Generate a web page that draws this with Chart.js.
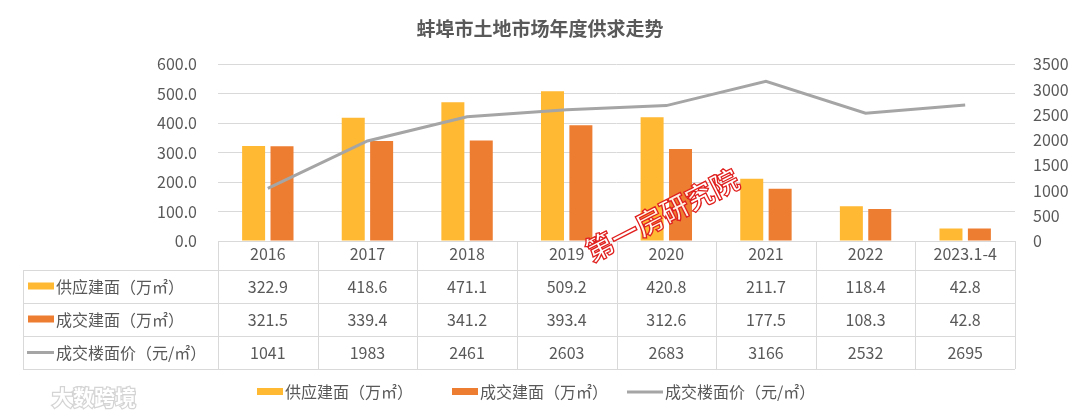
<!DOCTYPE html>
<html><head><meta charset="utf-8">
<script src="https://cdn.jsdelivr.net/npm/chart.js@4.4.0/dist/chart.umd.min.js"></script>
<style>html,body{margin:0;padding:0;background:#fff;overflow:hidden}canvas{display:block}</style>
</head><body>
<canvas id="c" width="1080" height="415"></canvas>
<script>
const titleText = '蚌埠市土地市场年度供求走势';
const categories = ['2016','2017','2018','2019','2020','2021','2022','2023.1-4'];
const supplyArea = [322.9,418.6,471.1,509.2,420.8,211.7,118.4,42.8];
const dealArea = [321.5,339.4,341.2,393.4,312.6,177.5,108.3,42.8];
const dealPrice = [1041,1983,2461,2603,2683,3166,2532,2695];
const seriesNames = ['供应建面（万㎡）','成交建面（万㎡）','成交楼面价（元/㎡）'];
const watermarkText = '第一房研究院';
const logoText = '大数跨境';

const F = '"Noto Sans CJK SC", "Open Sans", sans-serif';
const TXT = '#595959', GRID = '#D9D9D9';
const C_SUP = '#FFB933', C_DEAL = '#ED7D31', C_PRICE = '#A5A5A5';

const tablePlugin = {
  id: 'tablePlugin',
  afterDraw(chart) {
    const ctx = chart.ctx, a = chart.chartArea, xs = chart.scales.x;
    const n = categories.length;
    const half = (xs.getPixelForValue(1) - xs.getPixelForValue(0)) / 2;
    const bounds = [];
    for (let i = 0; i < n; i++) bounds.push(xs.getPixelForValue(i) - half);
    bounds.push(xs.getPixelForValue(n - 1) + half);
    const top = a.bottom, r1 = top + 29, rh = 33, tableLeft = 23;
    const rowsY = [r1, r1 + rh, r1 + 2 * rh, r1 + 3 * rh];
    ctx.save();
    ctx.strokeStyle = GRID; ctx.lineWidth = 1;
    ctx.beginPath();
    bounds.forEach(b => { const x = Math.round(b) + 0.5; ctx.moveTo(x, top); ctx.lineTo(x, rowsY[3]); });
    ctx.moveTo(tableLeft + 0.5, r1); ctx.lineTo(tableLeft + 0.5, rowsY[3]);
    rowsY.forEach(y => { ctx.moveTo(tableLeft, Math.round(y) + 0.5); ctx.lineTo(bounds[n], Math.round(y) + 0.5); });
    ctx.moveTo(bounds[0], Math.round(top) + 0.5); ctx.lineTo(bounds[n], Math.round(top) + 0.5);
    ctx.stroke();

    const rows = [supplyArea.map(v => v.toFixed(1)), dealArea.map(v => v.toFixed(1)), dealPrice.map(v => String(v))];
    const colors = [C_SUP, C_DEAL, C_PRICE];
    ctx.textBaseline = 'middle';
    for (let r = 0; r < 3; r++) {
      const cy = rowsY[r] + rh / 2;
      if (r < 2) { ctx.fillStyle = colors[r]; ctx.fillRect(28, cy - 4, 26, 7); }
      else { ctx.strokeStyle = colors[r]; ctx.lineWidth = 3; ctx.beginPath(); ctx.moveTo(27, cy); ctx.lineTo(54, cy); ctx.stroke(); }
      ctx.fillStyle = TXT; ctx.font = '16px ' + F; ctx.textAlign = 'left';
      ctx.fillText(seriesNames[r], 56, cy);
      ctx.textAlign = 'center'; ctx.font = '16px ' + F;
      for (let i = 0; i < n; i++) ctx.fillText(rows[r][i], xs.getPixelForValue(i), cy);
    }

    // legend
    const ly = 392;
    const items = [[257, 0], [452, 1], [627, 2]];
    items.forEach(([x, k]) => {
      if (k < 2) { ctx.fillStyle = colors[k]; ctx.fillRect(x, ly - 4, 26, 7); }
      else { ctx.strokeStyle = colors[k]; ctx.lineWidth = 3; ctx.beginPath(); ctx.moveTo(x, ly); ctx.lineTo(x + 36, ly); ctx.stroke(); }
      ctx.fillStyle = TXT; ctx.font = '16px ' + F; ctx.textAlign = 'left';
      ctx.fillText(seriesNames[k], x + (k < 2 ? 28 : 38), ly);
    });

    // watermark
    ctx.save();
    ctx.translate(662, 215); ctx.rotate(-27 * Math.PI / 180);
    ctx.font = 'bold 28px ' + F; ctx.textAlign = 'center'; ctx.textBaseline = 'middle';
    ctx.fillStyle = 'rgba(255,255,255,0.85)'; ctx.fillText(watermarkText, 0, 0);
    ctx.strokeStyle = '#E0201E'; ctx.lineWidth = 1.3; ctx.strokeText(watermarkText, 0, 0);
    ctx.restore();

    // logo
    ctx.font = 'bold 21px ' + F; ctx.textAlign = 'left'; ctx.textBaseline = 'middle';
    ctx.lineWidth = 2.5; ctx.strokeStyle = '#D4D4D4'; ctx.strokeText(logoText, 52, 397);
    ctx.fillStyle = '#FFFFFF'; ctx.fillText(logoText, 52, 397);
    ctx.restore();
  }
};

new Chart(document.getElementById('c'), {
  data: {
    labels: categories,
    datasets: [
      { type: 'line', label: seriesNames[2], data: dealPrice, yAxisID: 'y1', borderColor: C_PRICE, backgroundColor: C_PRICE,
        borderWidth: 3, pointRadius: 0, tension: 0, order: 0 },
      { type: 'bar', label: seriesNames[0], data: supplyArea, yAxisID: 'y', backgroundColor: C_SUP,
        categoryPercentage: 0.57, barPercentage: 0.81, order: 1 },
      { type: 'bar', label: seriesNames[1], data: dealArea, yAxisID: 'y', backgroundColor: C_DEAL,
        categoryPercentage: 0.57, barPercentage: 0.81, order: 1 }
    ]
  },
  options: {
    responsive: false, animation: false,
    layout: { padding: { top: 0, left: 0, right: 0, bottom: 145 } },
    plugins: {
      legend: { display: false }, tooltip: { enabled: false },
      title: { display: true, text: titleText, color: TXT, font: { family: F, size: 19, weight: 'bold' },
        padding: { top: 17, bottom: 24.6 } }
    },
    scales: {
      x: {
        grid: { display: false }, border: { display: false },
        ticks: { color: TXT, font: { family: F, size: 16 }, padding: -5, maxRotation: 0, autoSkip: false },
        afterFit(s) { s.height = 29; }
      },
      y: {
        position: 'left', min: 0, max: 600,
        ticks: { stepSize: 100, color: TXT, font: { family: F, size: 16 }, padding: 21, callback: v => Number(v).toFixed(1) },
        grid: { color: GRID, drawTicks: false }, border: { display: false },
        afterFit(s) { s.width = 218; }
      },
      y1: {
        position: 'right', min: 0, max: 3500,
        ticks: { stepSize: 500, color: TXT, font: { family: F, size: 16 }, padding: 18, callback: v => String(v) },
        grid: { drawOnChartArea: false, drawTicks: false }, border: { display: false },
        afterFit(s) { s.width = 65; }
      }
    }
  },
  plugins: [tablePlugin]
});
</script>
</body></html>
